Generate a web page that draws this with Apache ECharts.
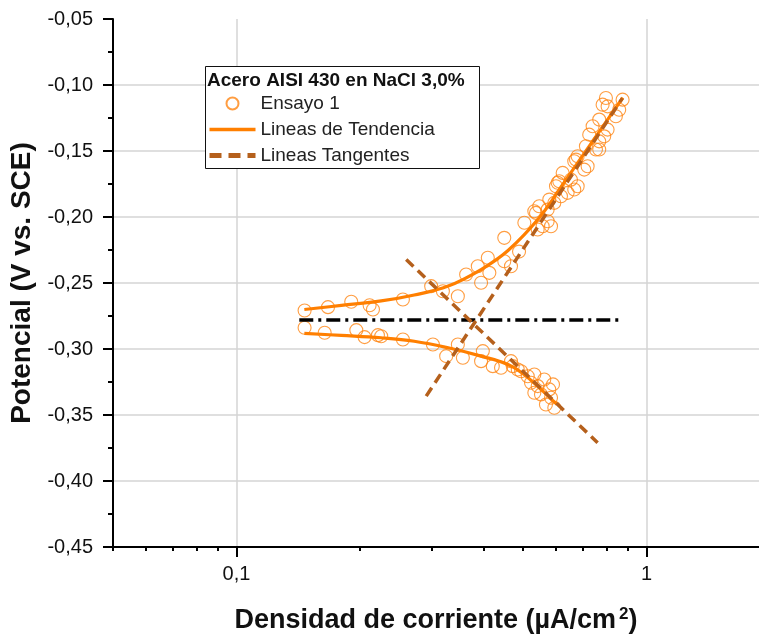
<!DOCTYPE html>
<html>
<head>
<meta charset="utf-8">
<script src="https://cdn.jsdelivr.net/npm/echarts@6/dist/echarts.min.js"></script>
<style>
html,body{margin:0;padding:0;background:#fff;}
#chart{width:759px;height:639px;}
</style>
</head>
<body>
<div id="chart"></div>
<script>
// ---- data ----
const anodicPoints = [[0.1466,-0.2708],[0.1672,-0.2683],[0.1905,-0.2642],[0.2112,-0.2668],[0.2152,-0.2701],[0.2546,-0.2625],[0.2984,-0.2524],[0.3187,-0.2562],[0.3466,-0.2600],[0.3631,-0.2436],[0.3877,-0.2373],[0.3949,-0.2498],[0.4101,-0.2309],[0.4137,-0.2423],[0.4498,-0.2158],[0.4498,-0.2335],[0.4671,-0.2373],[0.4887,-0.2262],[0.5035,-0.2044],[0.5375,-0.1969],[0.5426,-0.2095],[0.5580,-0.2070],[0.5739,-0.1944],[0.5739,-0.2032],[0.5957,-0.1893],[0.5848,-0.2070],[0.5475,-0.1919],[0.6014,-0.1767],[0.6071,-0.1741],[0.6184,-0.1843],[0.6243,-0.1666],[0.6420,-0.1817],[0.6541,-0.1717],[0.6663,-0.1792],[0.6663,-0.1578],[0.6792,-0.1540],[0.6792,-0.1767],[0.7047,-0.1641],[0.7114,-0.1464],[0.7182,-0.1616],[0.7247,-0.1376],[0.7387,-0.1313],[0.7526,-0.1489],[0.7666,-0.1262],[0.7666,-0.1427],[0.7884,-0.1389],[0.8035,-0.1338],[0.7813,-0.1149],[0.7960,-0.1098],[0.8417,-0.1237],[0.8576,-0.1187],[0.8740,-0.1111],[0.5325,-0.1956],[0.6125,-0.1729],[0.5792,-0.1868],[0.8035,-0.1162],[0.7666,-0.1489],[0.6728,-0.1565]];
const cathodicPoints = [[0.1466,-0.2839],[0.1641,-0.2877],[0.1960,-0.2857],[0.2053,-0.2910],[0.2213,-0.2895],[0.2546,-0.2928],[0.3013,-0.2966],[0.3246,-0.3054],[0.3466,-0.2966],[0.3565,-0.3066],[0.3988,-0.3016],[0.3949,-0.3092],[0.4217,-0.3130],[0.4417,-0.3142],[0.4671,-0.3092],[0.4717,-0.3130],[0.4943,-0.3168],[0.5132,-0.3206],[0.5325,-0.3193],[0.5630,-0.3231],[0.5227,-0.3256],[0.5426,-0.3281],[0.5792,-0.3306],[0.5325,-0.3331],[0.5528,-0.3344],[0.5848,-0.3369],[0.5684,-0.3420],[0.5957,-0.3445],[0.2254,-0.2903],[0.4852,-0.3155],[0.5913,-0.3268]];
const anodicTrend = [[0.1464,-0.2701],[0.1802,-0.2670],[0.2254,-0.2636],[0.2713,-0.2591],[0.3283,-0.2523],[0.3949,-0.2398],[0.4594,-0.2254],[0.5467,-0.2008],[0.6289,-0.1739],[0.7609,-0.1368],[0.8755,-0.1096]];
const cathodicTrend = [[0.1464,-0.2882],[0.1802,-0.2897],[0.2254,-0.2915],[0.2713,-0.2941],[0.3283,-0.2991],[0.3949,-0.3054],[0.4594,-0.3117],[0.5026,-0.3193],[0.5528,-0.3306],[0.6046,-0.3420]];
const anodicTangent = [[0.2902,-0.3357],[0.8731,-0.1100]];
const cathodicTangent = [[0.2594,-0.2322],[0.7597,-0.3710]];
const ecorrLine = [[0.1423,-0.278],[0.8755,-0.278]];
const xMajorTicks = [0.1, 1];
const xMinorTicks = [0.05,0.06,0.07,0.08,0.09,0.2,0.3,0.4,0.5,0.6,0.7,0.8,0.9];
const yRange = [-0.45, -0.05];
const yStep = 0.05;
const xRange = [0.05, 1.88];
const legendTitle = 'Acero AISI 430 en NaCl 3,0%';
const seriesNames = ['Ensayo 1', 'Lineas de Tendencia', 'Lineas Tangentes'];

const FONT = '"Liberation Sans", Arial, sans-serif';
const ORANGE = '#FF8412';
const TREND = '#FF7F00';
const BROWN = '#B5601C';

const chart = echarts.init(document.getElementById('chart'), null, {renderer: 'canvas'});
chart.setOption({
  backgroundColor: '#ffffff',
  animation: false,
  grid: {left: 112, top: 19, right: 0, bottom: 91},
  title: {
    text: legendTitle, left: 207, top: 71, padding: 0,
    textStyle: {fontFamily: FONT, fontWeight: 'bold', fontSize: 19, color: '#111'}
  },
  graphic: [{
    type: 'rect', z: 5,
    shape: {x: 205.5, y: 66.5, width: 274, height: 102},
    style: {fill: '#fff', stroke: '#111', lineWidth: 1}
  }],
  legend: {
    data: [
      {name: seriesNames[0]},
      {name: seriesNames[1], itemStyle: {opacity: 0, borderWidth: 0}, lineStyle: {width: 3.5}},
      {name: seriesNames[2], itemStyle: {opacity: 0, borderWidth: 0}, lineStyle: {width: 5, type: [12, 7]}}
    ],
    orient: 'vertical', left: 207, top: 94,
    padding: 0, itemWidth: 46, itemHeight: 12, itemGap: 7, z: 10,
    textStyle: {fontFamily: FONT, fontSize: 19, color: '#222'}
  },
  xAxis: [{
    type: 'log', logBase: 10, min: xRange[0], max: xRange[1],
    name: 'Densidad de corriente (µA/cm{sup|2})', nameLocation: 'middle', nameGap: 59,
    nameTextStyle: {fontFamily: FONT, fontWeight: 'bold', fontSize: 27, color: '#111',
      rich: {sup: {fontFamily: FONT, fontWeight: 'bold', fontSize: 17, color: '#111', verticalAlign: 'top', padding: [0, 0, 12, 3]}}},
    axisLine: {show: true, lineStyle: {color: '#000', width: 2}},
    axisTick: {show: true, customValues: xMajorTicks, length: 10, lineStyle: {color: '#000', width: 2}},
    axisLabel: {customValues: xMajorTicks, margin: 17, fontFamily: FONT, fontSize: 20, color: '#111',
      formatter: v => String(v).replace('.', ',')},
    splitLine: {show: true, lineStyle: {color: '#d4d4d4', width: 1.5}}
  }, {
    type: 'log', logBase: 10, min: xRange[0], max: xRange[1], position: 'bottom',
    axisLine: {show: false},
    axisTick: {show: true, customValues: xMinorTicks, length: 4, lineStyle: {color: '#000', width: 2}},
    axisLabel: {show: false},
    splitLine: {show: false}
  }],
  yAxis: {
    type: 'value', min: yRange[0], max: yRange[1], interval: yStep,
    name: 'Potencial (V vs. SCE)', nameLocation: 'middle', nameGap: 77, nameRotate: 90,
    nameTextStyle: {fontFamily: FONT, fontWeight: 'bold', fontSize: 28, color: '#111'},
    axisLine: {show: true, lineStyle: {color: '#000', width: 2}},
    axisTick: {show: true, length: 10, lineStyle: {color: '#000', width: 2}},
    minorTick: {show: true, splitNumber: 2, length: 5, lineStyle: {color: '#000', width: 2}},
    axisLabel: {margin: 20, fontFamily: FONT, fontSize: 20, color: '#111',
      formatter: v => v.toFixed(2).replace('.', ',')},
    splitLine: {show: true, showMaxLine: false, lineStyle: {color: '#d4d4d4', width: 1.5}}
  },
  series: [{
    name: seriesNames[0], type: 'scatter', symbol: 'circle', symbolSize: 13, z: 2,
    itemStyle: {color: 'rgba(255,255,255,0)', borderColor: ORANGE, borderWidth: 1.1},
    data: anodicPoints.concat(cathodicPoints)
  }, {
    name: seriesNames[1], type: 'line', symbol: 'none', smooth: 0.4, z: 3,
    lineStyle: {color: TREND, width: 3.2}, itemStyle: {color: TREND},
    data: anodicTrend
  }, {
    name: seriesNames[1], type: 'line', symbol: 'none', smooth: 0.4, z: 3,
    lineStyle: {color: TREND, width: 3.2}, itemStyle: {color: TREND},
    data: cathodicTrend
  }, {
    name: '', type: 'line', symbol: 'none', z: 4,
    lineStyle: {color: '#000', width: 3.5, type: [14, 5, 3, 5]},
    data: ecorrLine
  }, {
    name: seriesNames[2], type: 'line', symbol: 'none', z: 5,
    lineStyle: {color: BROWN, width: 3.5, type: [10, 6]}, itemStyle: {color: BROWN},
    data: anodicTangent
  }, {
    name: seriesNames[2], type: 'line', symbol: 'none', z: 5,
    lineStyle: {color: BROWN, width: 3.5, type: [10, 6]}, itemStyle: {color: BROWN},
    data: cathodicTangent
  }]
});
</script>
</body>
</html>
